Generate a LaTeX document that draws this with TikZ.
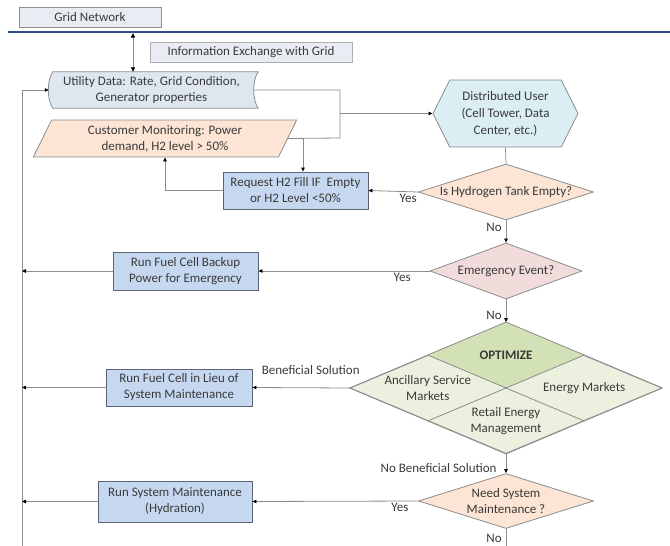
\documentclass[tikz,border=0pt]{standalone}
\usepackage{fontspec}
\setmainfont{Carlito}
\usepackage{tikz}
\usetikzlibrary{arrows.meta, calc, backgrounds, shapes.geometric, shapes.symbols}
\definecolor{edge}{HTML}{8C8C8C}
\definecolor{boxline}{HTML}{5A6673}
\definecolor{txt}{HTML}{3A3A3A}
\definecolor{gridblue}{HTML}{2F4F8A}
\definecolor{gridfill}{HTML}{E9EDF3}
\definecolor{datafill}{HTML}{DEE6F0}
\definecolor{custfill}{HTML}{FCE5D4}
\definecolor{actfill}{HTML}{C6D8F0}
\definecolor{userfill}{HTML}{DAEEF3}
\definecolor{askfill}{HTML}{FCE5D4}
\definecolor{emfill}{HTML}{F2DCDB}
\definecolor{optfill}{HTML}{D3E2B6}
\definecolor{mktfill}{HTML}{EBF1DE}

\begin{document}
\begin{tikzpicture}[
    x=1pt, y=-1pt,
    font=\fontsize{13}{16}\selectfont, text=txt,
    % --- block styles ---
    plain/.style={
      draw=edge, rectangle, inner sep=0pt,
      align=center, line width=0.8pt},
    action/.style={
      draw=boxline, fill=actfill, rectangle, inner sep=0pt,
      align=center, line width=0.8pt},
    ask/.style={
      draw=edge, diamond, aspect=3, inner ysep=0pt, inner xsep=-6pt,
      align=center, line width=0.8pt},
    anno/.style={font=\fontsize{13}{15}\selectfont, inner sep=2pt},
    line/.style={draw=edge, line width=0.8pt},
    arr/.style={line, -{Triangle[length=4pt, width=3.5pt, black]}},
    arrboth/.style={line, {Triangle[length=4.5pt, width=4pt, black]}-{Triangle[length=4.5pt, width=4pt, black]}},
  ]
  \useasboundingbox (0,0) rectangle (670,546);

  % ── Grid level ──
  \node[plain, fill=gridfill, minimum width=142pt, minimum height=20pt]
    (grid) at (90,17) {Grid Network};
  \draw[gridblue, line width=1.6pt] (8,32) -- (670,32);
  \coordinate (gl) at (133,33);
  \node[plain, fill=gridfill, draw=edge!70, minimum width=202pt, minimum height=20pt]
    (info) at (251,52) {Information Exchange with Grid};

  % ── Inputs ──
  \node[minimum width=205pt, minimum height=36pt, align=center, inner sep=0pt]
    (util) at (151.5,90) {Utility Data: Rate, Grid Condition,\\Generator properties};
  \begin{scope}[on background layer]
    \draw[line, fill=datafill]
      ($(util.north west)+(4,0)$) -- ($(util.north east)+(4,0)$)
      .. controls ($(util.east)+(-2,-10)$) and ($(util.east)+(-2,10)$) .. ($(util.south east)+(4,0)$)
      -- ($(util.south west)+(4,0)$)
      .. controls ($(util.west)+(-2,10)$) and ($(util.west)+(-2,-10)$) .. cycle;
  \end{scope}
  \node[draw=edge, fill=custfill, trapezium, trapezium left angle=65,
        trapezium right angle=115, trapezium stretches=true,
        minimum width=264pt, minimum height=37pt, inner sep=0pt,
        align=center, line width=0.8pt]
    (cust) at (165,138.5) {Customer Monitoring: Power\\demand, H2 level > 50\%};
  \node[action, minimum width=145pt, minimum height=37pt]
    (req) at (295.5,190.5) {Request H2 Fill IF\ \ Empty\\or H2 Level <50\%};

  % ── Distributed user and decisions ──
  \node[draw=edge, fill=userfill, signal, signal to=east and west,
        signal pointer angle=127, minimum width=145pt, minimum height=67pt,
        inner sep=0pt, align=center, line width=0.8pt,
        font=\fontsize{13}{17}\selectfont]
    (user) at (505.5,113.5) {Distributed User\\(Cell Tower, Data\\Center, etc.)};
  \node[ask, fill=askfill, minimum width=175pt, minimum height=56pt]
    (tank) at (506,192) {Is Hydrogen Tank Empty?};
  \node[ask, fill=emfill, minimum width=152pt, minimum height=56pt]
    (emq) at (506,271) {Emergency Event?};
  \node[ask, fill=mktfill, minimum width=312pt, minimum height=131pt]
    (opt) at (506,388) {};
  \fill[optfill] (opt.north) -- (opt.north east) -- (opt.center) -- (opt.north west) -- cycle;
  \draw[line] (opt.north west) -- (opt.south east);
  \draw[line] (opt.north east) -- (opt.south west);
  \draw[line] (opt.north) -- (opt.east) -- (opt.south) -- (opt.west) -- cycle;
  \node[font=\fontsize{13}{16}\selectfont\bfseries] (optlbl) at ($(opt.north)!0.5!(opt.center)$) {OPTIMIZE};
  \node[align=center] (ancl) at ($(opt.west)!0.5!(opt.center)$) {Ancillary Service\\Markets};
  \node (enm) at ($(opt.east)!0.5!(opt.center)$) {Energy Markets};
  \node[align=center] (rtl) at ($(opt.south)!0.5!(opt.center)$) {Retail Energy\\Management};
  \node[ask, fill=askfill, minimum width=175pt, minimum height=55pt]
    (mq) at (506,501) {Need System\\Maintenance ?};

  % ── Actions ──
  \node[action, minimum width=145pt, minimum height=38pt]
    (backup) at (185.5,271) {Run Fuel Cell Backup\\Power for Emergency};
  \node[action, minimum width=146pt, minimum height=37pt]
    (lieu) at (179,387.5) {Run Fuel Cell in Lieu of\\System Maintenance};
  \node[action, minimum width=154pt, minimum height=41pt]
    (maint) at (175,501.5) {Run System Maintenance\\(Hydration)};

  % ── Connectors ──
  \coordinate (loopbot) at (22,546);
  \coordinate (jn) at (340,138);
  \coordinate (jdrop) at (303,138);
  \coordinate (exit) at (506,546);
  \draw[arrboth] (gl) -- (gl |- util.north);
  \draw[arr] (loopbot) |- (util.west);
  \draw[line] (util.east) -| (jn) -- (cust.east);
  \draw[arr] (jdrop) -- (jdrop |- req.north);
  \draw[arr] (jn |- user.west) -- (user.west);
  \draw[arr] (req.west) -| (cust.south);
  \draw[line] (user.south) -- (tank.north);
  \draw[arr] (tank.west) -- node[below, anno, pos=0.2] {Yes} (req.east);
  \draw[arr] (tank.south) -- node[left, anno, pos=0.3, xshift=-2pt] {No} (emq.north);
  \draw[arr] (emq.west) -- node[below, anno, pos=0.16] {Yes} (backup.east);
  \draw[arr] (emq.south) -- node[left, anno, pos=0.7, xshift=-2pt] {No} (opt.north);
  \draw[arr] (opt.west) -- node[above=11pt, anno, pos=0.4] {Beneficial Solution} (lieu.east);
  \draw[arr] (opt.south) -- node[left, anno, pos=0.75, xshift=-7pt] {No Beneficial Solution} (mq.north);
  \draw[arr] (mq.west) -- node[below, anno, pos=0.11] {Yes} (maint.east);
  \draw[line] (mq.south) -- node[left, anno, pos=0.55, xshift=-2pt] {No} (exit);
  \draw[arr] (backup.west) -- (backup.west -| loopbot);
  \draw[arr] (lieu.west) -- (lieu.west -| loopbot);
  \draw[arr] (maint.west) -- (maint.west -| loopbot);

\end{tikzpicture}
\end{document}
